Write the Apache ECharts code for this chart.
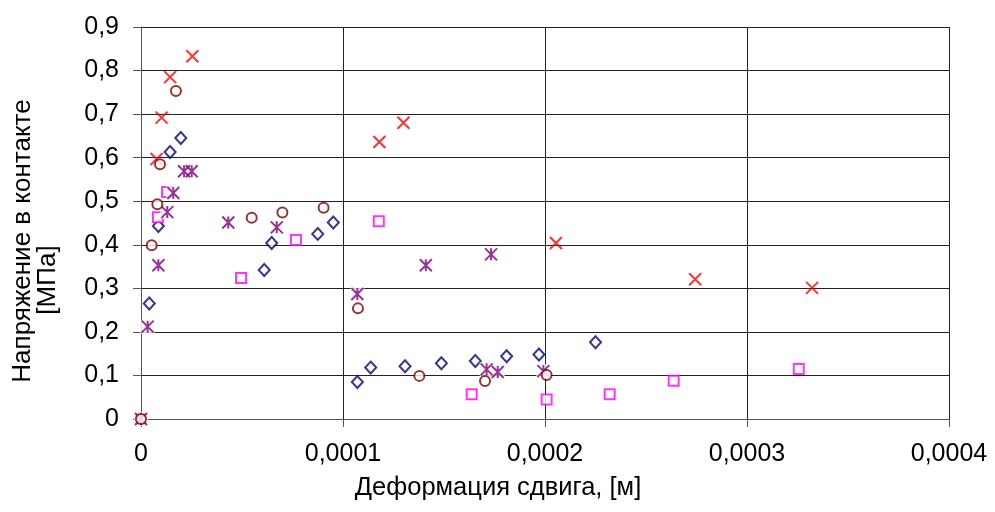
<!DOCTYPE html>
<html>
<head>
<meta charset="utf-8">
<script src="https://cdn.jsdelivr.net/npm/echarts@6/dist/echarts.min.js"></script>
<style>
  html, body { margin: 0; padding: 0; background: #fff; }
  #chart { width: 995px; height: 512px; }
</style>
</head>
<body>
<div id="chart"></div>
<script>
// точки [деформация, м ; напряжение, МПа]
var diamondPts = [
  [0, 0], [0.0000041, 0.265], [0.0000086, 0.443], [0.0000144, 0.613], [0.0000197, 0.645],
  [0.0000610, 0.342], [0.0000647, 0.404], [0.0000875, 0.425], [0.0000952, 0.451],
  [0.0001071, 0.085], [0.0001137, 0.118], [0.0001307, 0.121], [0.0001487, 0.128],
  [0.0001655, 0.133], [0.0001810, 0.144], [0.0001970, 0.148], [0.0002250, 0.176]
];
var squarePts = [
  [0, 0], [0.0000084, 0.463], [0.0000129, 0.521], [0.0000495, 0.324], [0.0000767, 0.411],
  [0.0001177, 0.454], [0.0001637, 0.057], [0.0002008, 0.045], [0.0002320, 0.057],
  [0.0002637, 0.088], [0.0003256, 0.115]
];
var crossPts = [
  [0, 0], [0.0000077, 0.597], [0.0000102, 0.692], [0.0000144, 0.785], [0.0000254, 0.833],
  [0.0001180, 0.636], [0.0001299, 0.680], [0.0002054, 0.404], [0.0002743, 0.321],
  [0.0003322, 0.301]
];
var starPts = [
  [0, 0], [0.0000033, 0.212], [0.0000086, 0.353], [0.0000130, 0.475], [0.0000160, 0.519],
  [0.0000213, 0.569], [0.0000251, 0.569], [0.0000432, 0.451], [0.0000672, 0.440],
  [0.0001071, 0.287], [0.0001410, 0.353], [0.0001733, 0.378], [0.0001711, 0.114],
  [0.0001766, 0.108], [0.0001992, 0.110]
];
var circlePts = [
  [0, 0], [0.0000053, 0.399], [0.0000081, 0.493], [0.0000094, 0.585], [0.0000173, 0.753],
  [0.0000548, 0.462], [0.0000700, 0.474], [0.0000904, 0.485], [0.0001074, 0.254],
  [0.0001378, 0.099], [0.0001703, 0.087], [0.0002008, 0.101]
];

var xTitle = 'Деформация сдвига, [м]';
var yTitle1 = 'Напряжение в контакте';
var yTitle2 = '[МПа]';

var font = '"Liberation Sans", Arial, sans-serif';
var chart = echarts.init(document.getElementById('chart'));

function comma(v, d) {
  return v === 0 ? '0' : v.toFixed(d).replace('.', ',');
}

var option = {
  backgroundColor: '#fff',
  animation: false,
  grid: { left: 141, right: 46, top: 27, bottom: 93 },
  xAxis: {
    type: 'value',
    min: 0, max: 0.0004, interval: 0.0001,
    axisLine: { lineStyle: { color: '#555', width: 1 } },
    axisTick: { show: true, length: 8, lineStyle: { color: '#555' } },
    axisLabel: { margin: 23, fontSize: 25, color: '#000', fontFamily: font,
      formatter: function (v) { return comma(v, 4); } },
    splitLine: { show: true, lineStyle: { color: '#222', width: 1 } }
  },
  yAxis: {
    type: 'value',
    min: 0, max: 0.9, interval: 0.1,
    axisLine: { show: true, lineStyle: { color: '#555', width: 1 } },
    axisTick: { show: true, length: 8, lineStyle: { color: '#555' } },
    axisLabel: { margin: 22, fontSize: 25, color: '#000', fontFamily: font,
      formatter: function (v) { return comma(v, 1); } },
    splitLine: { show: true, lineStyle: { color: '#222', width: 1 } }
  },
  graphic: [
    { type: 'text', x: 498, y: 488,
      style: { text: xTitle, font: '25.5px ' + font, fill: '#000', align: 'center', verticalAlign: 'middle' } },
    { type: 'text', x: 23, y: 241, rotation: Math.PI / 2,
      style: { text: yTitle1, font: '26px ' + font, fill: '#000', align: 'center', verticalAlign: 'middle' } },
    { type: 'text', x: 48, y: 280, rotation: Math.PI / 2,
      style: { text: yTitle2, font: '26px ' + font, fill: '#000', align: 'center', verticalAlign: 'middle' } }
  ],
  series: [
    {
      type: 'scatter', data: diamondPts, symbol: 'diamond', symbolSize: [11, 12], z: 2,
      itemStyle: { color: '#fff', borderColor: '#000080', borderWidth: 2 }
    },
    {
      type: 'scatter', data: squarePts, symbol: 'rect', symbolSize: 10, z: 3,
      itemStyle: { color: '#fff', borderColor: '#ff00ff', borderWidth: 2 }
    },
    {
      type: 'scatter', data: crossPts, symbol: 'path://M0,0L10,10M10,0L0,10', symbolSize: 12, z: 4,
      itemStyle: { color: 'none', borderColor: '#ff0000', borderWidth: 2 }
    },
    {
      // белая подложка под звёздочками
      type: 'scatter', data: starPts, symbol: 'rect', symbolSize: 14, z: 5, silent: true,
      itemStyle: { color: '#fff', borderWidth: 0 }
    },
    {
      type: 'scatter', data: starPts, symbol: 'path://M0,0L10,10M10,0L0,10M5,0L5,10', symbolSize: 12, z: 6,
      itemStyle: { color: 'none', borderColor: '#800080', borderWidth: 2 }
    },
    {
      type: 'scatter', data: circlePts, symbol: 'circle', symbolSize: 10, z: 7,
      itemStyle: { color: '#fff', borderColor: '#800000', borderWidth: 2 }
    }
  ]
};

chart.setOption(option);
</script>
</body>
</html>
